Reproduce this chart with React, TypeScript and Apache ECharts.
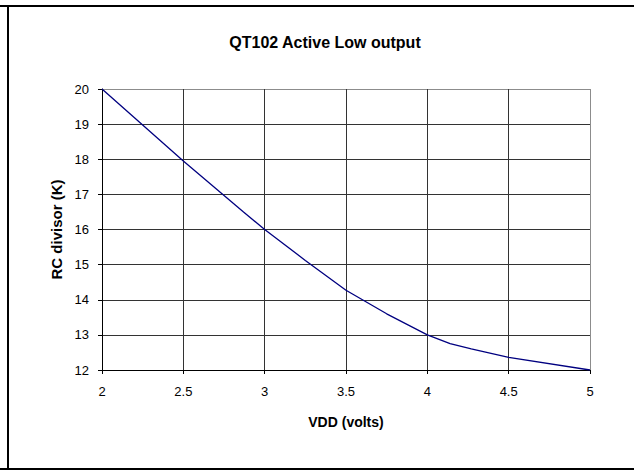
import React, { useEffect, useRef } from "react";
import * as echarts from "echarts";

const titleText = "QT102 Active Low output";
const xAxisName = "VDD (volts)";
const yAxisName = "RC divisor (K)";

const vdd = [2, 2.5, 2.87, 3, 3.25, 3.5, 3.75, 4, 4.14, 4.27, 4.5, 5];
const rcDivisor = [20, 17.95, 16.5, 16.0, 15.12, 14.27, 13.6, 13.0, 12.75, 12.6, 12.36, 12.0];

const xMin = 2;
const xMax = 5;
const xStep = 0.5;
const yMin = 12;
const yMax = 20;
const yStep = 1;

export default function App() {
  const ref = useRef<HTMLDivElement>(null);

  useEffect(() => {
    if (!ref.current) return;
    const chart = echarts.init(ref.current, null, { renderer: "svg" });
    const font = "'Liberation Sans', Arial, sans-serif";
    const yLineColors: string[] = [];
    for (let v = yMin; v <= yMax; v += yStep) yLineColors.push(v === yMax ? "#8c8c8c" : "#333333");
    const xLineColors: string[] = [];
    for (let v = xMin; v <= xMax + 1e-9; v += xStep) xLineColors.push(Math.abs(v - xMax) < 1e-9 ? "#8c8c8c" : "#333333");

    chart.setOption({
      animation: false,
      backgroundColor: "#ffffff",
      title: {
        text: titleText,
        left: 320,
        textAlign: "center",
        top: 29,
        textStyle: { fontFamily: font, fontSize: 16, fontWeight: "bold", color: "#000" },
      },
      grid: { left: 102, right: 44, top: 89, bottom: 100, containLabel: false },
      xAxis: {
        type: "value",
        min: xMin,
        max: xMax,
        interval: xStep,
        name: xAxisName,
        nameLocation: "middle",
        nameGap: 45,
        nameTextStyle: { fontFamily: font, fontSize: 14, fontWeight: "bold", color: "#000" },
        axisLine: { show: true, onZero: false, lineStyle: { color: "#000", width: 1 } },
        axisTick: { show: true, length: 4, inside: false, lineStyle: { color: "#000" } },
        axisLabel: { fontFamily: font, fontSize: 13, color: "#000", margin: 15 },
        splitLine: { show: true, lineStyle: { color: xLineColors, width: 1 } },
      },
      yAxis: {
        type: "value",
        min: yMin,
        max: yMax,
        interval: yStep,
        name: yAxisName,
        nameLocation: "middle",
        nameGap: 37,
        nameRotate: 90,
        nameTextStyle: { fontFamily: font, fontSize: 15, fontWeight: "bold", color: "#000" },
        axisLine: { show: true, onZero: false, lineStyle: { color: "#000", width: 1 } },
        axisTick: { show: true, length: 4, inside: false, lineStyle: { color: "#000" } },
        axisLabel: { fontFamily: font, fontSize: 13, color: "#000", margin: 13 },
        splitLine: { show: true, lineStyle: { color: yLineColors, width: 1 } },
      },
      graphic: [
        { type: "line", shape: { x1: 0, y1: 6, x2: 634, y2: 6 }, style: { stroke: "#000", lineWidth: 2 } },
        { type: "line", shape: { x1: 8, y1: 5, x2: 8, y2: 470 }, style: { stroke: "#000", lineWidth: 2 } },
        { type: "line", shape: { x1: 0, y1: 469, x2: 634, y2: 469 }, style: { stroke: "#000", lineWidth: 2 } },
      ],
      series: [
        {
          type: "line",
          data: vdd.map((x, i) => [x, rcDivisor[i]]),
          showSymbol: false,
          symbol: "none",
          smooth: false,
          lineStyle: { color: "#000080", width: 1.3 },
          z: 5,
        },
      ],
    });
    return () => chart.dispose();
  }, []);

  return <div ref={ref} style={{ width: 634, height: 470, position: "absolute", left: 0, top: 0 }} />;
}
